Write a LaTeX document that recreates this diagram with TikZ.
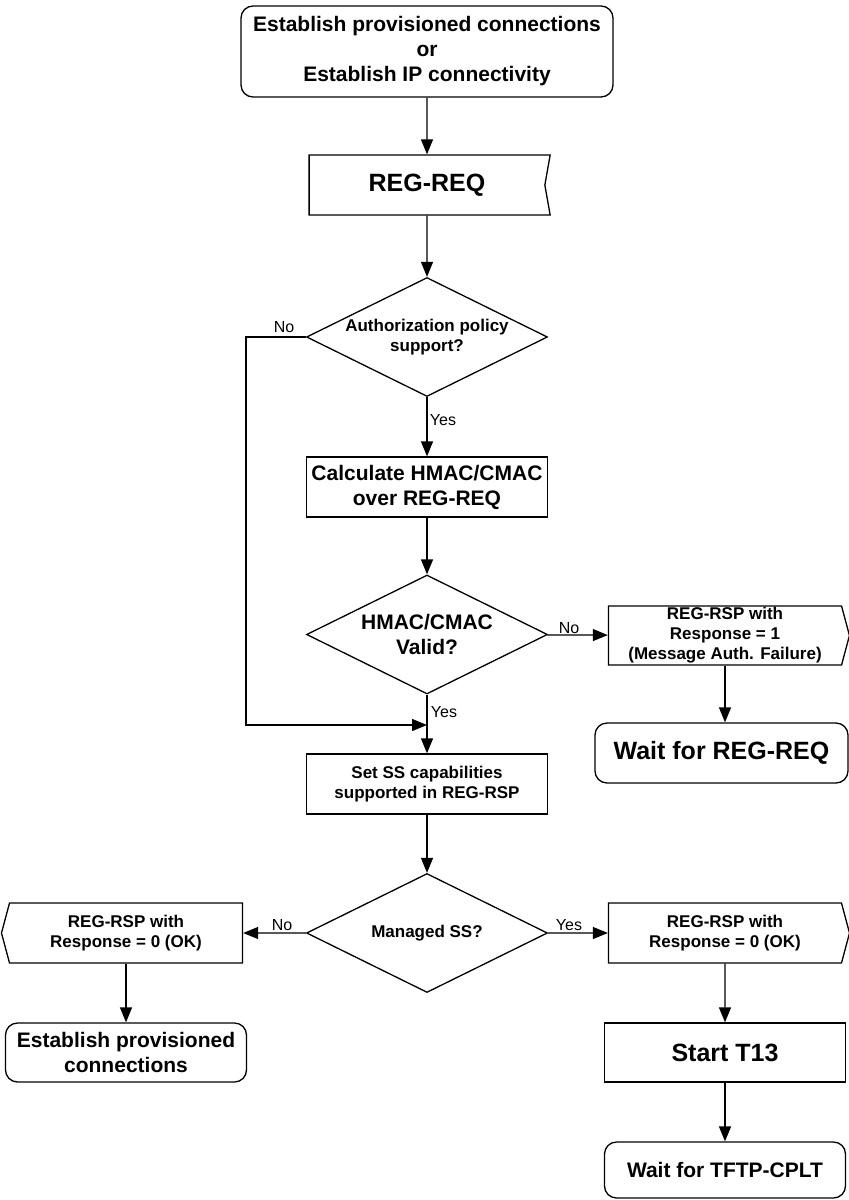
\documentclass[tikz,border=0pt]{standalone}
\usepackage{fontspec}
\setmainfont{Liberation Sans}
\usetikzlibrary{arrows.meta,shapes.geometric,shapes.symbols}

\begin{document}
\begin{tikzpicture}[x=1pt,y=-1pt,
	base/.style={draw,line width=1.3pt,align=center,inner sep=0pt},
	big/.style={font=\bfseries\fontsize{25}{29}\selectfont},
	mid/.style={font=\bfseries\fontsize{21}{25}\selectfont},
	sml/.style={font=\bfseries\fontsize{17}{20}\selectfont},
	proc/.style={base,minimum width=241pt,minimum height=60pt},
	term/.style={proc,rounded corners=12pt},
	dec/.style={base,shape=diamond,aspect=2,minimum width=241pt,minimum height=119pt},
	sig/.style={base,shape=signal,signal pointer angle=150,minimum width=241pt,minimum height=60pt},
	lbl/.style={font=\fontsize{16}{19}\selectfont,inner sep=0pt},
	arr/.style={line width=1.3pt,-{Triangle[length=15pt,width=12pt]}}]
				%%%%% START %%%%%
				\def\xl{126}
				\def\xc{427}
				\def\xr{725}

				\useasboundingbox (0,0) rectangle (849,1200);

				\node[term,mid,minimum width=372pt,minimum height=91pt] (start) at (\xc,51.5) {Establish provisioned connections\\or\\Establish IP connectivity};
				\node[sig,big,signal to=nowhere,signal from=east,signal pointer angle=160] (regreq) at (\xc,185) {REG-REQ};
				\node[dec,sml] (auth) at (\xc,337) {Authorization policy\\support?};
				\node[proc,mid] (calc) at (\xc,487) {Calculate HMAC/CMAC\\over REG-REQ};
				\node[dec,mid] (valid) at (\xc,634.5) {HMAC/CMAC\\Valid?};
				\node[sig,sml,signal to=east,minimum height=59pt] (rspfail) at (\xr,635.5) {REG-RSP with\\Response = 1\\(Message Auth. Failure)};
				\node[term,big,minimum width=253pt] (waitreq) at (721.5,753) {Wait for REG-REQ};
				\node[proc,sml] (setss) at (\xc,784) {Set SS capabilities\\supported in REG-RSP};
				\node[dec,sml] (managed) at (\xc,933) {Managed SS?};
				\node[sig,sml,signal to=west] (rspleft) at (\xl,933) {REG-RSP with\\Response = 0 (OK)};
				\node[term,mid,minimum height=59pt] (estprov) at (\xl,1052.5) {Establish provisioned\\connections};
				\node[sig,sml,signal to=east] (rspright) at (\xr,933) {REG-RSP with\\Response = 0 (OK)};
				\node[proc,big,minimum height=59pt] (t13) at (\xr,1052.5) {Start T13};
				\node[term,mid,minimum height=56pt] (waittftp) at (\xr,1170) {Wait for TFTP-CPLT};

				\coordinate (join) at (\xc,725);

				\draw[arr] (start) -- (regreq);
				\draw[arr] (regreq) -- (auth);
				\draw[arr] (auth) -- (calc);
				\draw[arr] (calc) -- (valid);
				\draw[arr] (valid) -- (rspfail);
				\draw[arr] (rspfail.south) -- (rspfail.south |- waitreq.north);
				\draw[arr] (valid) -- (setss);
				\draw[arr] (auth.west) -- ++(-60,0) |- (join);
				\draw[arr] (setss) -- (managed);
				\draw[arr] (managed) -- (rspleft);
				\draw[arr] (managed) -- (rspright);
				\draw[arr] (rspleft.south) -- (rspleft.south |- estprov.north);
				\draw[arr] (rspright) -- (t13);
				\draw[arr] (t13) -- (waittftp);

				\node[lbl] (noauth) at (284,327) {No};
				\node[lbl] (yesauth) at (443,420) {Yes};
				\node[lbl] (novalid) at (569,628) {No};
				\node[lbl] (yesvalid) at (444,712) {Yes};
				\node[lbl] (nomanaged) at (282,925) {No};
				\node[lbl] (yesmanaged) at (569,925) {Yes};
				%%%%% START %%%%%
\end{tikzpicture}
\end{document}
